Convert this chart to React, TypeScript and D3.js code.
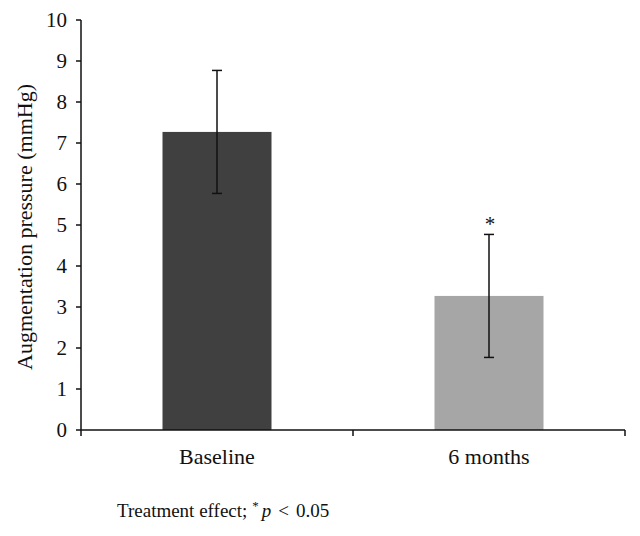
import React from "react";
import * as d3 from "d3";

const categories = ["Baseline", "6 months"];
const means = [7.27, 3.27];
const errors = [1.5, 1.5];
const barColors = ["#404040", "#a6a6a6"];
const yTicks = [0, 1, 2, 3, 4, 5, 6, 7, 8, 9, 10];
const significance = ["", "*"];

export default function App() {
  const W = 640, H = 536;
  const left = 81, right = 625, top = 20, bottom = 430;
  const x = d3.scaleBand().domain(categories).range([left, right]).paddingInner(0).paddingOuter(0);
  const y = d3.scaleLinear().domain([0, 10]).range([bottom, top]);
  const barW = 109;
  const font = "'Liberation Serif', 'Times New Roman', serif";
  const boundaries = [left, ...categories.map((c) => (x(c) as number) + x.bandwidth())];
  return (
    <svg width={W} height={H} style={{ position: "absolute", left: 0, top: 0 }} fontFamily={font}>
      <rect x={0} y={0} width={W} height={H} fill="#fff" />
      {categories.map((c, i) => {
        const cx = (x(c) as number) + x.bandwidth() / 2;
        return (
          <g key={c}>
            <rect x={cx - barW / 2} y={y(means[i])} width={barW} height={bottom - y(means[i])} fill={barColors[i]} />
            <line x1={cx} x2={cx} y1={y(means[i] + errors[i])} y2={y(means[i] - errors[i])} stroke="#111" strokeWidth={1.5} />
            <line x1={cx - 5} x2={cx + 5} y1={y(means[i] + errors[i])} y2={y(means[i] + errors[i])} stroke="#111" strokeWidth={1.5} />
            <line x1={cx - 5} x2={cx + 5} y1={y(means[i] - errors[i])} y2={y(means[i] - errors[i])} stroke="#111" strokeWidth={1.5} />
            {significance[i] && (
              <text x={cx + 1} y={y(means[i] + errors[i]) - 3} textAnchor="middle" fontSize={21} fill="#111">{significance[i]}</text>
            )}
            <text x={cx} y={464} textAnchor="middle" fontSize={22} fill="#111">{c}</text>
          </g>
        );
      })}
      <line x1={left} x2={left} y1={top} y2={bottom} stroke="#111" strokeWidth={1.5} />
      {yTicks.map((t) => (
        <g key={t}>
          <line x1={left - 5} x2={left} y1={y(t)} y2={y(t)} stroke="#111" strokeWidth={1.5} />
          <text x={67} y={y(t)} dy="0.35em" textAnchor="end" fontSize={21} fill="#111">{t}</text>
        </g>
      ))}
      <line x1={left} x2={right} y1={bottom} y2={bottom} stroke="#111" strokeWidth={1.5} />
      {boundaries.map((b, i) => (
        <line key={i} x1={b} x2={b} y1={bottom} y2={bottom + 6} stroke="#111" strokeWidth={1.5} />
      ))}
      <text transform={`translate(32, ${(top + bottom) / 2 + 2}) rotate(-90)`} textAnchor="middle" fontSize={22} fill="#111">
        Augmentation pressure (mmHg)
      </text>
      <text x={117} y={517} fontSize={19} fill="#111">
        Treatment effect;
        <tspan dx={5} dy={-7} fontSize={13}>*</tspan>
        <tspan dx={3} dy={7} fontStyle="italic">p</tspan>
        <tspan dx={7}>{"<"}</tspan>
        <tspan dx={7}>0.05</tspan>
      </text>
    </svg>
  );
}
